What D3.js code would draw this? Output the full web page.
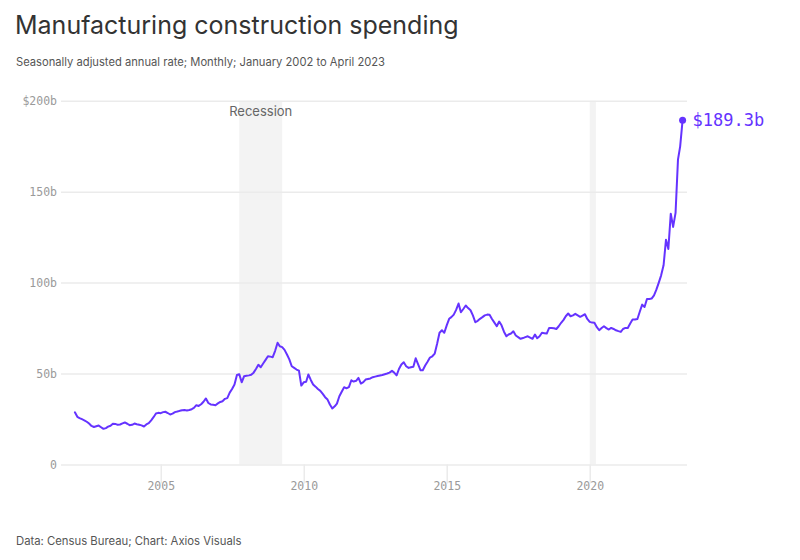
<!DOCTYPE html>
<html>
<head>
<meta charset="utf-8">
<script src="https://cdn.jsdelivr.net/npm/d3@7"></script>
<style>
  html, body { margin: 0; padding: 0; background: #fff; }
  svg { display: block; }
</style>
</head>
<body>
<svg id="chart" width="800" height="560"></svg>
<script>
// ---- Data ----
const startMonth = "2002-01";
const values = [
  // 2002
  28.7, 26.2, 25.5, 24.9, 24.3, 23.5, 22.5, 21.2, 20.6, 21.0, 21.4, 20.5,
  // 2003
  19.6, 20.0, 20.8, 21.3, 22.4, 22.3, 21.8, 22.0, 22.6, 23.1, 22.4, 21.6,
  // 2004
  21.8, 22.5, 22.1, 21.8, 21.5, 20.9, 22.0, 22.7, 24.3, 26.0, 28.0, 28.4,
  // 2005
  28.2, 28.8, 29.0, 28.3, 27.5, 28.0, 28.8, 29.1, 29.5, 29.8, 29.9, 29.7,
  // 2006
  30.0, 30.4, 31.1, 32.6, 32.2, 33.1, 34.5, 36.3, 33.8, 33.0, 32.8, 32.6,
  // 2007
  33.6, 34.4, 34.8, 36.1, 36.5, 39.5, 41.5, 44.0, 49.2, 49.6, 45.2, 48.5,
  // 2008
  48.8, 49.0, 49.3, 50.5, 52.5, 54.8, 53.5, 55.5, 57.5, 59.5, 59.3, 59.0,
  // 2009
  62.5, 66.9, 65.0, 64.5, 63.0, 60.5, 57.8, 54.0, 53.1, 52.2, 51.6, 43.4,
  // 2010
  45.2, 45.5, 49.5, 46.5, 44.0, 42.8, 41.5, 40.5, 38.8, 37.0, 35.7, 33.0,
  // 2011
  30.8, 32.0, 33.5, 37.5, 40.0, 42.5, 41.9, 42.5, 46.3, 45.6, 46.0, 47.6,
  // 2012
  44.5, 45.3, 46.7, 47.0, 47.3, 48.0, 48.3, 48.6, 48.9, 49.2, 49.6, 50.0,
  // 2013
  50.5, 51.5, 50.5, 49.0, 52.5, 55.0, 56.2, 54.0, 53.1, 53.5, 53.7, 58.4,
  // 2014
  55.0, 51.8, 51.8, 54.4, 56.5, 58.8, 59.5, 61.0, 66.5, 72.4, 73.8, 72.4,
  // 2015
  76.5, 80.1, 81.0, 82.4, 85.0, 88.5, 83.7, 85.5, 87.4, 86.0, 84.8, 82.0,
  // 2016
  78.2, 79.0, 80.1, 81.0, 82.0, 82.4, 82.3, 80.0, 78.0, 76.0, 78.6, 76.5,
  // 2017
  73.0, 70.5, 71.5, 72.0, 73.2, 70.9, 70.0, 69.1, 69.5, 70.0, 70.5, 69.8,
  // 2018
  69.1, 71.4, 69.4, 70.5, 72.4, 72.2, 72.0, 75.1, 75.0, 74.9, 74.5, 76.0,
  // 2019
  77.9, 79.5, 81.5, 83.0, 81.5, 82.0, 82.8, 82.0, 81.2, 81.9, 82.6, 80.0,
  // 2020
  78.4, 78.0, 77.9, 75.5, 73.8, 75.0, 76.0, 75.0, 74.2, 75.1, 74.5, 73.8,
  // 2021
  73.3, 72.9, 74.5, 75.1, 75.1, 77.5, 79.7, 79.7, 80.0, 84.0, 87.9, 86.6,
  // 2022
  91.0, 91.0, 91.2, 93.0, 96.1, 100.0, 104.0, 109.5, 123.6, 118.5, 137.9, 130.6,
  // 2023
  138.3, 167.6, 174.9, 189.3
];
const yTicks = [0, 50, 100, 150, 200];
const yTickLabels = ["0", "50b", "100b", "150b", "$200b"];
const xTicks = ["2005-01-01", "2010-01-01", "2015-01-01", "2020-01-01"];
const xTickLabels = ["2005", "2010", "2015", "2020"];
const recessions = [
  { start: "2007-10-01", end: "2009-04-01", label: "Recession" },
  { start: "2020-01-01", end: "2020-03-20", label: "" }
];
const endLabel = "$189.3b";
const title = "Manufacturing construction spending";
const subtitle = "Seasonally adjusted annual rate; Monthly; January 2002 to April 2023";
const source = "Data: Census Bureau; Chart: Axios Visuals";

// ---- Build ----
const parseMonth = d3.timeParse("%Y-%m");
const parseDay = d3.timeParse("%Y-%m-%d");
const t0 = parseMonth(startMonth);
const data = values.map((v, i) => ({ date: d3.timeMonth.offset(t0, i), value: v }));

const svg = d3.select("#chart");
const PURPLE = "#6533ff";
const MONO = "'DejaVu Sans Mono', 'Liberation Mono', monospace";
const SANS = "Inter, 'Noto Sans', sans-serif";

const gridLeft = 61, gridRight = 687;
const x = d3.scaleTime()
  .domain([data[0].date, data[data.length - 1].date])
  .range([74.9, 682.6]);
const y = d3.scaleLinear().domain([0, 200]).range([464.5, 100.7]);

// Title etc.
svg.append("text").attr("x", 15).attr("y", 34)
  .attr("font-family", SANS).attr("font-size", 25).attr("fill", "#333")
  .text(title);
svg.append("text").attr("x", 16).attr("y", 66)
  .attr("font-family", SANS).attr("font-size", 11.2).attr("fill", "#555")
  .text(subtitle);
svg.append("text").attr("x", 16).attr("y", 545)
  .attr("font-family", SANS).attr("font-size", 11.3).attr("fill", "#555")
  .text(source);

// Recession bands
const bands = svg.append("g");
recessions.forEach(r => {
  const x0 = x(parseDay(r.start)), x1 = x(parseDay(r.end));
  bands.append("rect").attr("x", x0).attr("y", y(200)).attr("width", x1 - x0)
    .attr("height", y(0) - y(200)).attr("fill", "#f3f3f3");
  if (r.label) {
    bands.append("text").attr("x", (x0 + x1) / 2).attr("y", 116)
      .attr("text-anchor", "middle").attr("font-family", SANS)
      .attr("font-size", 13).attr("fill", "#666").text(r.label);
  }
});

// Y grid + labels
const yAxis = d3.axisLeft(y).tickValues(yTicks)
  .tickSize(-(gridRight - gridLeft)).tickPadding(4)
  .tickFormat((d, i) => yTickLabels[i]);
const gy = svg.append("g").attr("transform", `translate(${gridLeft},0)`).call(yAxis);
gy.select(".domain").remove();
gy.selectAll(".tick line").attr("stroke", "#ebebeb").attr("stroke-width", 1.5);
gy.selectAll(".tick text").attr("font-family", MONO).attr("font-size", 11.5)
  .attr("fill", "#9a9a9a").attr("x", -4);

// X ticks + labels
const xAxis = d3.axisBottom(x).tickValues(xTicks.map(parseDay))
  .tickSize(19).tickPadding(2)
  .tickFormat((d, i) => xTickLabels[i]);
const gx = svg.append("g").attr("transform", `translate(0,${y(0)})`).call(xAxis);
gx.select(".domain").remove();
gx.selectAll(".tick line").attr("stroke", "#ebebeb").attr("stroke-width", 1.5);
gx.selectAll(".tick text").attr("font-family", MONO).attr("font-size", 11.5)
  .attr("fill", "#9a9a9a").attr("dy", "0.4em");

// Line
const line = d3.line().x(d => x(d.date)).y(d => y(d.value));
svg.append("path").datum(data).attr("d", line)
  .attr("fill", "none").attr("stroke", PURPLE).attr("stroke-width", 2)
  .attr("stroke-linejoin", "round").attr("stroke-linecap", "round");

// End point + label
const last = data[data.length - 1];
svg.append("circle").attr("cx", x(last.date)).attr("cy", y(last.value))
  .attr("r", 3.5).attr("fill", PURPLE);
svg.append("text").attr("x", x(last.date) + 10).attr("y", y(last.value))
  .attr("dy", "0.35em").attr("font-family", MONO).attr("font-size", 17)
  .attr("fill", PURPLE).text(endLabel);
</script>
</body>
</html>
